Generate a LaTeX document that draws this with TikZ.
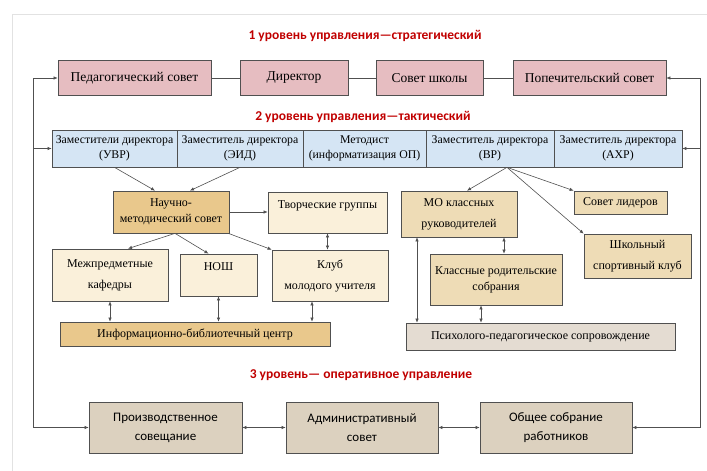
\documentclass[tikz,border=0pt]{standalone}
\usepackage{fontspec}
\setmainfont{Liberation Serif}
\newfontfamily\timesfont{Liberation Serif}
\newfontfamily\calibri{Carlito}
\usepackage{tikz}
\usetikzlibrary{arrows.meta, calc}
\definecolor{lineGray}{HTML}{505050}
\definecolor{frameGray}{HTML}{E2E2E2}
\definecolor{headRed}{HTML}{C00000}
\definecolor{pinkFill}{HTML}{E6BDC1}
\definecolor{blueFill}{HTML}{D5E5F4}
\definecolor{tanDark}{HTML}{E9C88C}
\definecolor{creamFill}{HTML}{FAF0DA}
\definecolor{tanMid}{HTML}{EEDCB6}
\definecolor{psyFill}{HTML}{E4DCD2}
\definecolor{baseFill}{HTML}{DCD1BF}

\begin{document}
\begin{tikzpicture}[x=1pt, y=-1pt, >={Latex[length=4pt,width=3.5pt]},
    box/.style={draw=lineGray, line width=0.7pt, align=center, inner sep=0pt},
    pinkbox/.style={box, fill=pinkFill, font=\timesfont\fontsize{13.5}{15}\selectfont},
    bluebox/.style={box, fill=blueFill, minimum width=126, minimum height=37, font=\timesfont\fontsize{11.8}{14.5}\selectfont},
    midbox/.style={box, font=\timesfont\fontsize{12}{16}\selectfont},
    basebox/.style={box, fill=baseFill, minimum width=153, minimum height=51, font=\calibri\fontsize{13}{19}\selectfont},
    level/.style={text=headRed, font=\calibri\bfseries\fontsize{13.5}{16}\selectfont},
    link/.style={draw=lineGray, line width=0.6pt}]
    \useasboundingbox (0,0) rectangle (707,471);
    \draw[frameGray, line width=0.8pt] (12,471) -- (12,14) -- (707,14);

    % 1 level
    \node[level] (h1) at (365,36) {1 уровень управления—стратегический};
    \node[pinkbox, minimum width=153, minimum height=35] (ped) at (134.5,78) {Педагогический совет};
    \node[pinkbox, minimum width=108, minimum height=35] (dir) at (294,78) {Директор};
    \node[pinkbox, minimum width=107, minimum height=35] (sov) at (429.5,78) {Совет школы};
    \node[pinkbox, minimum width=153, minimum height=35] (pop) at (589.5,78) {Попечительский совет};
    \draw[link] (ped) -- (dir);
    \draw[link] (dir) -- (sov);
    \draw[link] (sov) -- (pop);

    % 2 level
    \node[level] (h2) at (363,117) {2 уровень управления—тактический};
    \node[bluebox, minimum width=125] (uvr) at (114.5,148.5) {Заместители директора\\(УВР)};
    \node[bluebox] (eid) at (240,148.5) {Заместитель директора\\(ЭИД)};
    \node[bluebox, minimum width=123] (met) at (364.5,148.5) {Методист\\(информатизация ОП)};
    \node[bluebox, minimum width=128] (vr) at (490,148.5) {Заместитель директора\\(ВР)};
    \node[bluebox, minimum width=128] (ahr) at (618,148.5) {Заместитель директора\\(АХР)};

    \node[midbox, fill=tanDark, minimum width=116, minimum height=42] (nms) at (171,212) {Научно-\\методический совет};
    \node[midbox, fill=creamFill, minimum width=119, minimum height=41] (tvg) at (327.5,212.5) {Творческие группы\\\mbox{}};
    \node[midbox, fill=creamFill, minimum width=116, minimum height=52] (mpk) at (110,275) {Межпредметные\\[5pt]кафедры};
    \node[midbox, fill=creamFill, minimum width=77, minimum height=42] (nosh) at (218.5,275) {НОШ\\\mbox{}};
    \node[midbox, fill=creamFill, minimum width=116, minimum height=51] (kmu) at (330,275.5) {Клуб\\[5pt]молодого учителя};
    \node[midbox, fill=tanDark, minimum width=270, minimum height=24] (ibc) at (195,334) {Информационно-библиотечный центр};

    \node[midbox, fill=tanMid, minimum width=116, minimum height=46] (mok) at (459,214) {МО классных\\[5pt]руководителей};
    \node[midbox, fill=tanMid, minimum width=93, minimum height=23] (svl) at (620.5,202.5) {Совет лидеров};
    \node[midbox, fill=tanMid, minimum width=107, minimum height=44] (ssk) at (637.5,256) {Школьный\\[5pt]спортивный клуб};
    \node[midbox, fill=tanMid, minimum width=132, minimum height=51] (krs) at (496,279.5) {Классные родительские\\собрания};
    \node[midbox, fill=psyFill, minimum width=269, minimum height=27] (pps) at (540.5,336.5) {Психолого-педагогическое сопровождение};

    \draw[link, ->] (uvr.south) -- ([xshift=-16]nms.north);
    \draw[link, ->] (eid.south) -- ([xshift=19]nms.north);
    \draw[link, ->] (nms.east) -- (nms.east -| tvg.west);
    \draw[link, ->] ([xshift=4]nms.south) -- ([xshift=18]mpk.north);
    \draw[link, ->] ([xshift=4]nms.south) -- ([xshift=-10]nosh.north);
    \draw[link, ->] ([xshift=-1]nms.south east) -- (kmu.north west);
    \draw[link, <->] (tvg.south) -- (tvg.south |- kmu.north);
    \draw[link, <->] (mpk.south) -- (mpk.south |- ibc.north);
    \draw[link, <->] (nosh.south) -- (nosh.south |- ibc.north);
    \draw[link, <->] ([xshift=-18]kmu.south) -- ([xshift=-18]kmu.south |- ibc.north);

    \draw[link, ->] ([xshift=17]vr.south) -- ([xshift=8]mok.north);
    \draw[link, ->] ([xshift=17]vr.south) -- (svl.north west);
    \draw[link, ->] ([xshift=17]vr.south) -- (ssk.north west);
    \draw[link, <->] ([xshift=-42]mok.south) -- ([xshift=-42]mok.south |- pps.north);
    \draw[link, <->] ([xshift=45]mok.south) -- ([xshift=45]mok.south |- krs.north);
    \draw[link, <->] ([xshift=-15]krs.south) -- ([xshift=-15]krs.south |- pps.north);

    % 3 level
    \node[level] (h3) at (361,375) {3 уровень— оперативное управление};
    \node[basebox] (prs) at (165.5,427.5) {Производственное\\совещание};
    \node[basebox, minimum width=152] (ads) at (362,427.5) {Административный\\совет};
    \node[basebox, minimum width=152] (obs) at (556,427.5) {Общее собрание\\работников};
    \draw[link, <->] (prs) -- (ads);
    \draw[link, <->] (ads) -- (obs);

    % side lines
    \coordinate (lbus) at (33,0);
    \coordinate (rbus) at (700,0);
    \draw[link, <->] (prs.west) -- (prs.west -| lbus) |- (ped.west);
    \draw[link, ->] (uvr.west -| lbus) -- (uvr.west);
    \draw[link, <->] (obs.east) -- (obs.east -| rbus) |- (pop.east);
    \draw[link, ->] (ahr.east -| rbus) -- (ahr.east);
\end{tikzpicture}
\end{document}
